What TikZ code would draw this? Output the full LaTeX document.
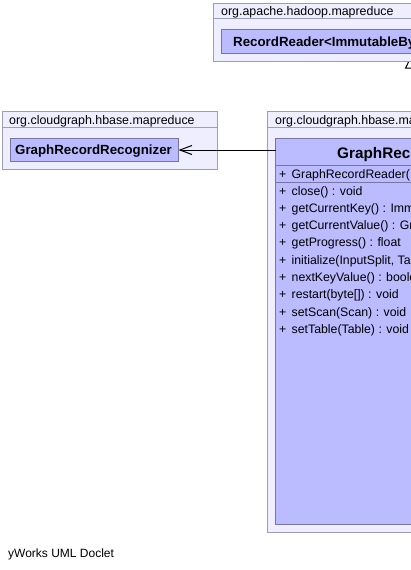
\documentclass[tikz,border=0pt]{standalone}
\usepackage{fontspec}
\setmainfont{Liberation Sans}
\usetikzlibrary{arrows.meta}
\definecolor{pkgfill}{RGB}{238,238,255}
\definecolor{pkgdraw}{RGB}{158,158,176}
\definecolor{clsfill}{RGB}{187,187,255}
\definecolor{clsdraw}{RGB}{118,118,160}
\pgfdeclarelayer{back}
\pgfdeclarelayer{bg}
\pgfsetlayers{bg,back,main}
\begin{document}
\begin{tikzpicture}[x=1pt,y=-1pt,
  box/.style={anchor=north west, inner sep=0pt, outer sep=0pt, line width=1pt},
  pkgbox/.style={box, draw=pkgdraw, fill=pkgfill},
  clsbox/.style={box, draw=clsdraw, fill=clsfill},
  pkglabel/.style={anchor=base west, inner sep=0pt, font=\fontsize{12.4}{14}\selectfont},
  clslabel/.style={anchor=base west, inner sep=0pt, font=\fontsize{13.3}{15}\selectfont\bfseries},
  titlelabel/.style={anchor=base west, inner sep=0pt, font=\fontsize{15.3}{17}\selectfont\bfseries},
  member/.style={anchor=base west, inner sep=0pt, font=\fontsize{12.3}{14}\selectfont},
  pkgline/.style={draw=pkgdraw, line width=1pt},
  clsline/.style={draw=clsdraw, line width=1pt},
  edge/.style={draw=black, line width=1pt}]
\useasboundingbox (0,0) rectangle (411,570);
\begin{pgfonlayer}{bg}
\fill[white] (0,0) rectangle (411,570);
\end{pgfonlayer}
\begin{scope}
\clip (0,0) rectangle (411,570);
% package org.apache.hadoop.mapreduce
\node[pkgbox, minimum width=300, minimum height=58] (pkgA) at (213.5,3.5) {};
\draw[pkgline] (213.5,18.5) -- (520,18.5);
\node[pkglabel] (pkgAname) at (221,15.5) {org.apache.hadoop.mapreduce};
\node[clsbox, minimum width=381, minimum height=24] (clsA) at (221.5,29.5) {};
\node[clslabel] (clsAname) at (233,46) {RecordReader<ImmutableBy};
% package org.cloudgraph.hbase.mapreduce (left)
\node[pkgbox, minimum width=215, minimum height=58] (pkgL) at (2.5,111.5) {};
\draw[pkgline] (2.5,127.5) -- (217.5,127.5);
\node[pkglabel] (pkgLname) at (9,124) {org.cloudgraph.hbase.mapreduce};
\node[clsbox, minimum width=168, minimum height=23] (recog) at (10.5,138.5) {};
\node[clslabel] (recogname) at (15,154.3) {GraphRecordRecognizer};
% package org.cloudgraph.hbase.mapreduce (right)
\node[pkgbox, minimum width=300, minimum height=421] (pkgR) at (267.5,111.5) {};
\draw[pkgline] (267.5,127.5) -- (570,127.5);
\node[pkglabel] (pkgRname) at (275,124) {org.cloudgraph.hbase.ma};
\node[clsbox, minimum width=273, minimum height=386] (clsR) at (275.5,138.5) {};
\node[titlelabel] (clsRname) at (337,158) {GraphRec};
\draw[clsline] (275.5,165.5) -- (560,165.5);
\draw[clsline] (275.5,182.5) -- (560,182.5);
\node[member] (m0) at (279,178) {+\hspace{5.3pt}GraphRecordReader(};
\node[member] (m1) at (279,195) {+\hspace{5.3pt}close() : void};
\node[member] (m2) at (279,212.3) {+\hspace{5.3pt}getCurrentKey() : Imm};
\node[member] (m3) at (279,229.6) {+\hspace{5.3pt}getCurrentValue() : Gr};
\node[member] (m4) at (279,246.9) {+\hspace{5.3pt}getProgress() : float};
\node[member] (m5) at (279,264.2) {+\hspace{5.3pt}initialize(InputSplit, Ta};
\node[member] (m6) at (279,281.5) {+\hspace{5.3pt}nextKeyValue() : boole};
\node[member] (m7) at (279,298.8) {+\hspace{5.3pt}restart(byte[]) : void};
\node[member] (m8) at (279,316.1) {+\hspace{5.3pt}setScan(Scan) : void};
\node[member] (m9) at (279,333.4) {+\hspace{5.3pt}setTable(Table) : void};
% connectors
\begin{pgfonlayer}{back}
\clip (0,0) rectangle (411,570);
\draw[edge, -{Triangle[open, length=15pt, width=14pt]}] (clsR.north) -- (clsA.south);
\end{pgfonlayer}
\draw[edge, -{Straight Barb[length=12pt, width=9pt]}] (clsR.west |- recog.east) -- (recog.east);
\end{scope}
\node[anchor=base west, inner sep=0pt, font=\fontsize{12}{14}\selectfont] (footer) at (8,557) {yWorks UML Doclet};
\end{tikzpicture}
\end{document}
